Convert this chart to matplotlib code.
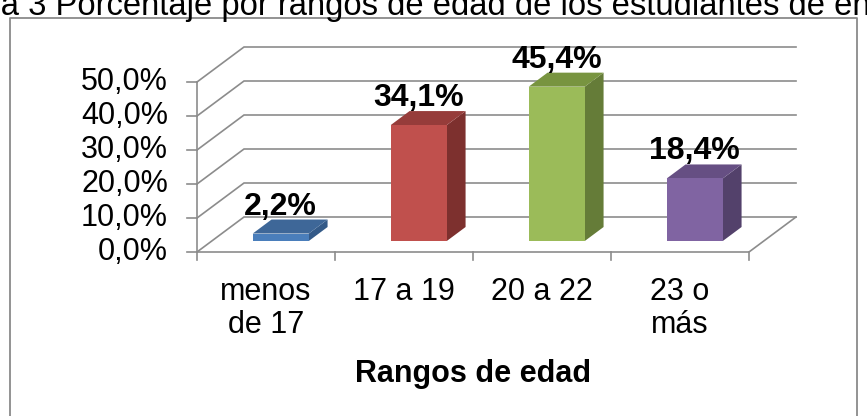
import matplotlib.pyplot as plt
from matplotlib.patches import Polygon

plt.rcParams['font.family'] = ['Liberation Sans', 'DejaVu Sans']

# data
categories = ["menos\nde 17", "17 a 19", "20 a 22", "23 o\nmás"]
values = [2.2, 34.1, 45.4, 18.4]
labels = ["2,2%", "34,1%", "45,4%", "18,4%"]
y_ticks = [0, 10, 20, 30, 40, 50]
y_tick_labels = ["0,0%", "10,0%", "20,0%", "30,0%", "40,0%", "50,0%"]
x_title = "Rangos de edad"
fig_title = "Figura 3 Porcentaje por rangos de edad de los estudiantes de enfermería"

front_col = ['#4A7EBB', '#C0504D', '#9BBB59', '#8064A2']
top_col = ['#3E6798', '#963C3A', '#789440', '#664F83']
side_col = ['#345A88', '#7D302E', '#657C38', '#53416B']

W, H = 867, 416
x0_px, y0_px = 197, 252          # front-left corner of the floor
px_cat, px_pct = 138, 3.4        # pixels per category / per percent

# depth of the 3d box, in data units
DX = 47 / px_cat
DY = 35 / px_pct
z0, z1 = 0.314, 0.714            # bar depth span
bw = 0.406                       # bar width as fraction of a category

fig = plt.figure(figsize=(W / 100, H / 100), dpi=100)
ax = fig.add_axes([0, 0, 1, 1])
ax.set_xlim(-x0_px / px_cat, (W - x0_px) / px_cat)
ax.set_ylim((y0_px - H) / px_pct, y0_px / px_pct)
ax.axis('off')

n = len(categories)
grid = '#8C8C8C'

def proj(x, y, z):
    return x + z * DX, y + z * DY

# back wall + left wall gridlines
for v in y_ticks:
    pts = [proj(0, v, 0), proj(0, v, 1), proj(n, v, 1)]
    ax.plot([p[0] for p in pts], [p[1] for p in pts], color=grid, lw=1.2, zorder=1,
            solid_joinstyle='miter')
# floor front and right edge
pts = [proj(0, 0, 0), proj(n, 0, 0), proj(n, 0, 1)]
ax.plot([p[0] for p in pts], [p[1] for p in pts], color=grid, lw=1.2, zorder=1)
# value axis
ax.plot([0, 0], [0, y_ticks[-1]], color=grid, lw=1.2, zorder=1)
for v, lab in zip(y_ticks, y_tick_labels):
    ax.plot([-10 / px_cat, 0], [v, v], color=grid, lw=1.2, zorder=1)
    ax.text(-29 / px_cat, v, lab, ha='right', va='center', fontsize=22, color='black')
# category ticks
for i in range(n + 1):
    ax.plot([i, i], [0, -8 / px_pct], color=grid, lw=1.2, zorder=1)

# bars
for i, v in enumerate(values):
    xl = i + (1 - bw) / 2
    xr = xl + bw
    front = [proj(xl, 0, z0), proj(xr, 0, z0), proj(xr, v, z0), proj(xl, v, z0)]
    top = [proj(xl, v, z0), proj(xr, v, z0), proj(xr, v, z1), proj(xl, v, z1)]
    side = [proj(xr, 0, z0), proj(xr, 0, z1), proj(xr, v, z1), proj(xr, v, z0)]
    ax.add_patch(Polygon(side, closed=True, fc=side_col[i], ec='none', zorder=3))
    ax.add_patch(Polygon(top, closed=True, fc=top_col[i], ec='none', zorder=3))
    ax.add_patch(Polygon(front, closed=True, fc=front_col[i], ec='none', zorder=4))
    cx, cy = proj((xl + xr) / 2, v, z0)
    ax.text(cx, cy + 19 / px_pct, labels[i], ha='center', va='baseline',
            fontsize=23, fontweight='bold', color='black', zorder=5)

# category labels, one line at a time so baselines line up
for i, c in enumerate(categories):
    for k, line in enumerate(c.split("\n")):
        ax.text(i + 0.5, (y0_px - 300 - 33 * k) / px_pct, line, ha='center',
                va='baseline', fontsize=22, color='black')

ax.text(n / 2, (y0_px - 382) / px_pct, x_title, ha='center', va='baseline',
        fontsize=22, fontweight='bold', color='black')

# chart border (from the source document)
bx = [10 / W, 10 / W, 857 / W, 857 / W]
by = [-0.05, 1 - 18 / H, 1 - 18 / H, -0.05]
fig.add_artist(plt.Line2D(bx, by, transform=fig.transFigure, color='#8A8A8A', lw=1.3))

# caption cut off at the top of the image, as in the reference
fig.text(-74 / W, 1 - 15 / H, fig_title, ha='left', va='baseline', fontsize=23.6,
         color='black')

fig.savefig('out.png', dpi=100)
